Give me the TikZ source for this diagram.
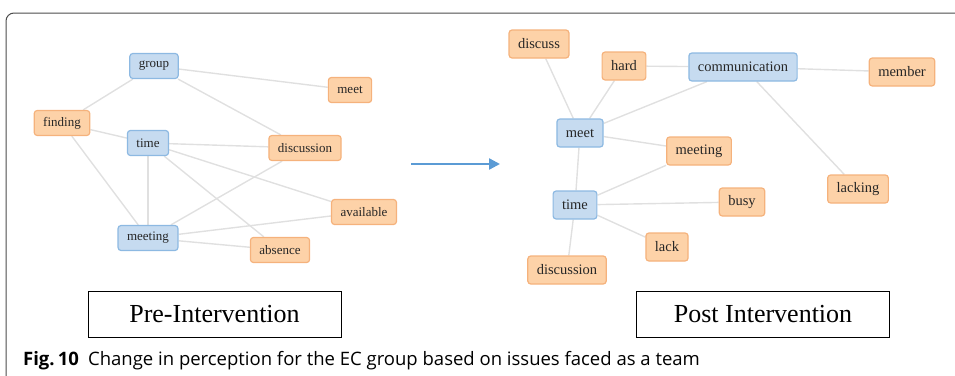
\documentclass[tikz,border=0pt]{standalone}
\usepackage{fontspec}
\setmainfont{Liberation Serif}
\newfontfamily\capfont{Open Sans}
\usetikzlibrary{positioning,arrows.meta,backgrounds}

\definecolor{termblue}{HTML}{C6DBF0}
\definecolor{termblueline}{HTML}{8DB9E2}
\definecolor{termorange}{HTML}{FDD2A8}
\definecolor{termorangeline}{HTML}{F5B27C}
\definecolor{linkgray}{HTML}{E0E0E0}
\definecolor{shiftblue}{HTML}{5B9BD5}

\begin{document}
\begin{tikzpicture}[x=1pt, y=-1pt]
    % Define styles
    \tikzstyle{term}=[rectangle,rounded corners=3pt,line width=1.2pt,text=black!85,inner xsep=9pt,inner ysep=0pt]
    \tikzstyle{mainterm}=[term,draw=termblueline,fill=termblue]
    \tikzstyle{subterm}=[term,draw=termorangeline,fill=termorange]
    \tikzstyle{pre}=[minimum height=25pt,font=\fontsize{13}{15}\selectfont]
    \tikzstyle{post}=[minimum height=28pt,font=\fontsize{14.5}{16}\selectfont]
    \tikzstyle{line}=[draw=linkgray,line width=1.4pt]
    \tikzstyle{phase}=[rectangle,draw=black,line width=0.9pt,minimum width=253pt,minimum height=46pt,font=\fontsize{26}{30}\selectfont]

    \useasboundingbox (0,0) rectangle (955,375);

    % Frame
    \draw[gray!60!black,line width=1pt,rounded corners=8pt] (955,13) -- (6,13) -- (6,376);

    % Pre-Intervention network
    \node [mainterm, pre] (pgroup) at (154,66) {group};
    \node [subterm, pre] (pmeet) at (350,90) {meet};
    \node [subterm, pre] (pfinding) at (62,123) {finding};
    \node [mainterm, pre] (ptime) at (148,143) {time};
    \node [subterm, pre] (pdiscussion) at (305,148) {discussion};
    \node [subterm, pre] (pavailable) at (364,212) {available};
    \node [mainterm, pre] (pmeeting) at (148,238) {meeting};
    \node [subterm, pre] (pabsence) at (280,250) {absence};

    % Post Intervention network
    \node [subterm, post] (qdiscuss) at (539,44) {discuss};
    \node [subterm, post] (qhard) at (624,66) {hard};
    \node [mainterm, post] (qcommunication) at (743,67) {communication};
    \node [subterm, post] (qmember) at (902,72) {member};
    \node [mainterm, post] (qmeet) at (580,133) {meet};
    \node [subterm, post] (qmeeting) at (699,151) {meeting};
    \node [subterm, post] (qlacking) at (858,189) {lacking};
    \node [subterm, post] (qbusy) at (742,202) {busy};
    \node [mainterm, post] (qtime) at (575,205) {time};
    \node [subterm, post] (qlack) at (667,247) {lack};
    \node [subterm, post] (qdiscussion) at (567,270) {discussion};

    % Define connections
    \begin{pgfonlayer}{background}
        \path [line] (pgroup) -- (pmeet);
        \path [line] (pgroup) -- (pfinding);
        \path [line] (pgroup) -- (pdiscussion);
        \path [line] (pfinding) -- (ptime);
        \path [line] (pfinding) -- (pmeeting);
        \path [line] (ptime) -- (pdiscussion);
        \path [line] (ptime) -- (pavailable);
        \path [line] (ptime) -- (pabsence);
        \path [line] (ptime) -- (pmeeting);
        \path [line] (pmeeting) -- (pdiscussion);
        \path [line] (pmeeting) -- (pavailable);
        \path [line] (pmeeting) -- (pabsence);

        \path [line] (qdiscuss) -- (qmeet);
        \path [line] (qhard) -- (qmeet);
        \path [line] (qhard) -- (qcommunication);
        \path [line] (qcommunication) -- (qmeet);
        \path [line] (qcommunication) -- (qmember);
        \path [line] (qcommunication) -- (qlacking);
        \path [line] (qmeet) -- (qmeeting);
        \path [line] (qmeet) -- (qtime);
        \path [line] (qtime) -- (qmeeting);
        \path [line] (qtime) -- (qbusy);
        \path [line] (qtime) -- (qlack);
        \path [line] (qtime) -- (qdiscussion);
    \end{pgfonlayer}

    % Change arrow
    \coordinate (shiftstart) at (411,164);
    \coordinate (shiftend) at (500,164);
    \draw [shiftblue, line width=2.4pt, -{Triangle[length=11pt,width=11pt]}] (shiftstart) -- (shiftend);

    % Phase labels
    \node [phase] (prephase) at (214.5,314) {Pre-Intervention};
    \node [phase] (postphase) at (763,314.5) {Post Intervention};

    % Caption
    \node [anchor=base west, inner sep=0pt, font=\capfont\fontsize{18.5}{20}\selectfont] (caption) at (23,365) {\textbf{Fig.\,10}\enspace Change in perception for the EC group based on issues faced as a team};
\end{tikzpicture}
\end{document}
